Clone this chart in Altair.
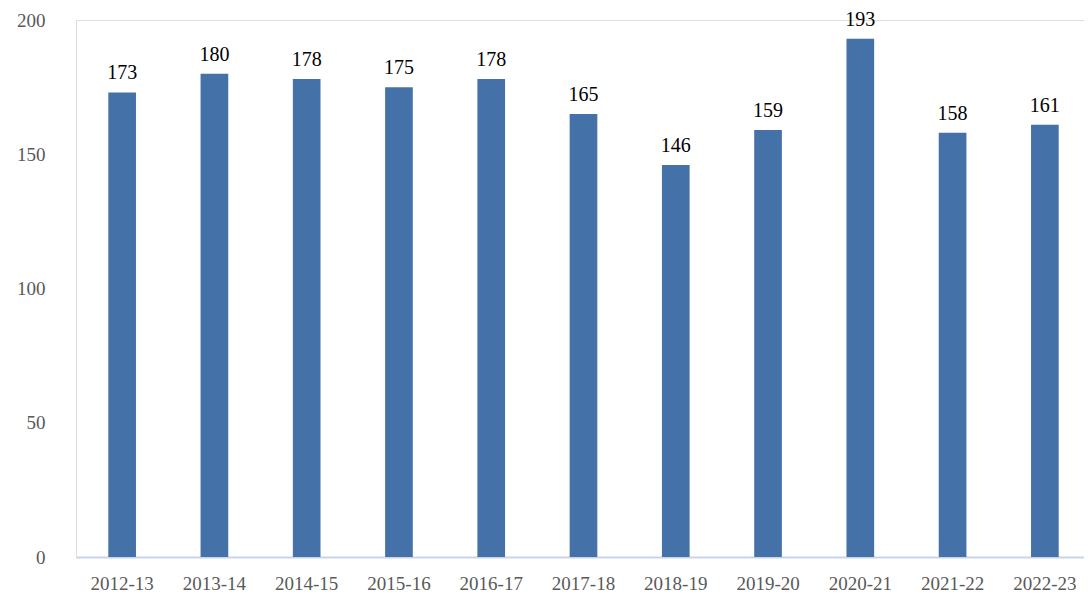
import altair as alt
import pandas as pd

years = ["2012-13", "2013-14", "2014-15", "2015-16", "2016-17", "2017-18",
         "2018-19", "2019-20", "2020-21", "2021-22", "2022-23"]
values = [173, 180, 178, 175, 178, 165, 146, 159, 193, 158, 161]

df = pd.DataFrame({"year": years, "value": values})

x = alt.X("year:N", sort=years, title=None,
          scale=alt.Scale(paddingInner=0.7, paddingOuter=0.35),
          axis=alt.Axis(labelAngle=0, labelFont="Liberation Serif", labelFontSize=19,
                        labelColor="#595959", labelPadding=17, ticks=False,
                        domainColor="#C9D4E8", domainWidth=2))
y = alt.Y("value:Q", title=None,
          scale=alt.Scale(domain=[0, 200]),
          axis=alt.Axis(values=[0, 50, 100, 150, 200], grid=False, domain=False, ticks=False,
                        labelFont="Liberation Serif", labelFontSize=19, labelColor="#595959",
                        labelPadding=31))

bars = alt.Chart(df).mark_bar(color="#4472A8").encode(x=x, y=y)
labels = alt.Chart(df).mark_text(dy=-19, font="Liberation Serif", fontSize=20,
                                 color="#000000").encode(x=x, y=y, text="value:Q")

chart = (bars + labels).properties(
    width=1015, height=537,
    autosize=alt.AutoSizeParams(type="none"),
    padding={"left": 68, "top": 12, "right": -7, "bottom": 38},
).configure_view(stroke=None).configure(background="white")

chart.save("out.html", embed_options={"renderer": "svg", "actions": False})
